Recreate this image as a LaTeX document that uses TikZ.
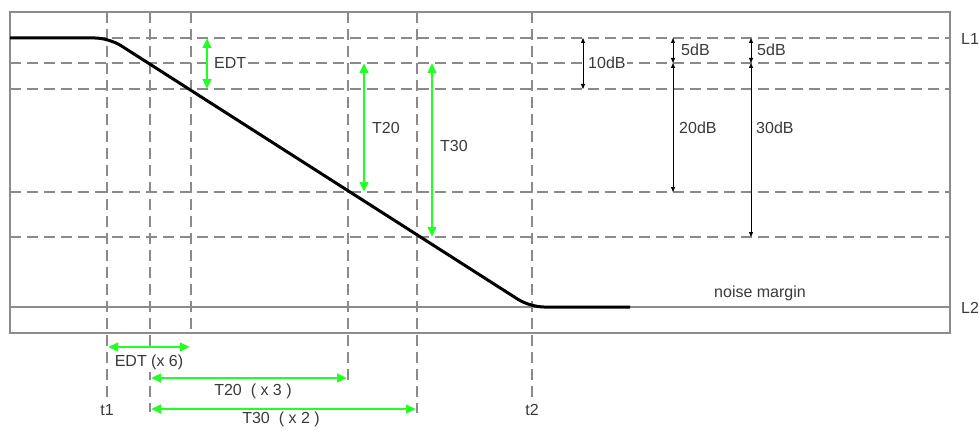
\documentclass[tikz,border=0pt]{standalone}
\usepackage{fontspec}
\setmainfont{Liberation Sans}
\usetikzlibrary{arrows.meta}
\definecolor{gridgray}{HTML}{8A8A8A}
\definecolor{framegray}{HTML}{8C8C8C}
\definecolor{brightgreen}{HTML}{22FF22}
\definecolor{txt}{HTML}{3A3A3A}
\begin{document}
\begin{tikzpicture}[x=1pt,y=-1pt,
  gridline/.style={draw=gridgray, line width=1.1pt, dash pattern=on 11pt off 6pt},
  framel/.style={draw=framegray, line width=1.1pt},
  curve/.style={draw=black, line width=3pt, rounded corners=14pt},
  garrow/.style={draw=brightgreen, line width=2.4pt, {Triangle[width=8.5pt,length=10pt]}-{Triangle[width=8.5pt,length=10pt]}},
  karrow/.style={draw=black, line width=0.8pt, {Triangle[width=4pt,length=5pt]}-{Triangle[width=4pt,length=5pt]}},
  lbl/.style={text=txt, font=\fontsize{16}{19}\selectfont, inner sep=1pt},
  wlbl/.style={lbl, fill=white}
]
\useasboundingbox (0,0) rectangle (979,433);

% horizontal dashed grid
\foreach \yy in {38,63,89,192,237} \draw[gridline] (10,\yy) -- (950,\yy);
% vertical dashed grid
\draw[gridline] (107,12) -- (107,400);
\draw[gridline] (150,12) -- (150,412);
\draw[gridline] (191,12) -- (191,333);
\draw[gridline] (348,12) -- (348,380);
\draw[gridline] (417,12) -- (417,413);
\draw[gridline] (532,12) -- (532,397);

% frame and L2 line
\draw[framel] (10,12) rectangle (950,333);
\draw[framel] (10,307) -- (950,307);

% decay curve
\draw[curve] (10,38) -- (109,38) -- (530,307) -- (630,307);

% labels
\node[wlbl, anchor=west] (edt) at (213,63) {EDT};
\node[lbl, anchor=west] (t20) at (371,128) {T20};
\node[lbl, anchor=west] (t30) at (439,146) {T30};
\node[wlbl, anchor=west] (d10) at (587,63) {10dB};
\node[lbl, anchor=west] (d5a) at (680,50) {5dB};
\node[lbl, anchor=west] (d20) at (678,128) {20dB};
\node[lbl, anchor=west] (d5b) at (756,50) {5dB};
\node[lbl, anchor=west] (d30) at (755,128) {30dB};
\node[lbl, anchor=west] (l1) at (960,39) {L1};
\node[lbl, anchor=west] (l2) at (960,308) {L2};
\node[lbl, anchor=west] (nm) at (713,293) {noise margin};
\node[wlbl, inner ysep=3pt] (edtx) at (149,362) {EDT (x 6)};
\node[lbl] (t20x) at (253,391) {T20\ \ ( x 3 )};
\node[lbl] (t30x) at (281,419) {T30\ \ ( x 2 )};
\node[lbl] (t1) at (107,410) {t1};
\node[lbl] (t2) at (532,410) {t2};

% green vertical arrows
\coordinate (ea) at (207,38); \coordinate (eb) at (207,89);
\coordinate (ta) at (364,63); \coordinate (tb) at (364,192);
\coordinate (sa) at (432,63); \coordinate (sb) at (432,237);
\draw[garrow] (ea) -- (eb);
\draw[garrow] (ta) -- (tb);
\draw[garrow] (sa) -- (sb);

% green horizontal arrows
\coordinate (ha1) at (108,347); \coordinate (hb1) at (190,347);
\coordinate (ha2) at (151,378); \coordinate (hb2) at (347,378);
\coordinate (ha3) at (151,409); \coordinate (hb3) at (416,409);
\draw[garrow] (ha1) -- (hb1);
\draw[garrow] (ha2) -- (hb2);
\draw[garrow] (ha3) -- (hb3);

% black dB arrows
\coordinate (k1a) at (583,38); \coordinate (k1b) at (583,89);
\coordinate (k2a) at (673,38); \coordinate (k2b) at (673,63); \coordinate (k2c) at (673,192);
\coordinate (k3a) at (751,38); \coordinate (k3b) at (751,63); \coordinate (k3c) at (751,237);
\draw[karrow] (k1a) -- (k1b);
\draw[karrow] (k2a) -- (k2b);
\draw[karrow] (k2b) -- (k2c);
\draw[karrow] (k3a) -- (k3b);
\draw[karrow] (k3b) -- (k3c);
\end{tikzpicture}
\end{document}
